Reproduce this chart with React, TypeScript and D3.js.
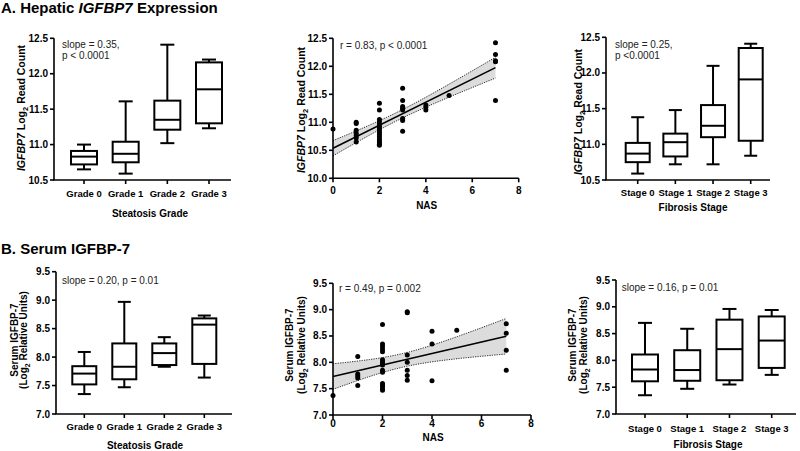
import React from "react";
import * as d3 from "d3";

const FONT = "'Liberation Sans', Arial, Helvetica, sans-serif";

// ---------- categories & ticks ----------
const steatosisGrades = ["Grade 0", "Grade 1", "Grade 2", "Grade 3"];
const fibrosisStages = ["Stage 0", "Stage 1", "Stage 2", "Stage 3"];
const hepBoxTicks = [10.5, 11.0, 11.5, 12.0, 12.5];
const hepScatterTicks = [10.0, 10.5, 11.0, 11.5, 12.0, 12.5];
const serumTicks = [7.0, 7.5, 8.0, 8.5, 9.0, 9.5];
const nasTicks = [0, 2, 4, 6, 8];

// ---------- box statistics: [min, q1, median, q3, max] ----------
const hepSteatosisStats = [
  [10.65, 10.72, 10.83, 10.91, 11.0],
  [10.59, 10.75, 10.87, 11.04, 11.61],
  [11.02, 11.21, 11.35, 11.62, 12.41],
  [11.23, 11.3, 11.78, 12.16, 12.2],
];
const hepFibrosisStats = [
  [10.59, 10.75, 10.87, 11.02, 11.38],
  [10.72, 10.83, 11.03, 11.15, 11.48],
  [10.72, 11.1, 11.26, 11.55, 12.1],
  [10.84, 11.05, 11.91, 12.35, 12.41],
];
const serSteatosisStats = [
  [7.35, 7.52, 7.71, 7.84, 8.09],
  [7.47, 7.61, 7.83, 8.24, 8.97],
  [7.83, 7.86, 8.07, 8.24, 8.35],
  [7.64, 7.88, 8.57, 8.68, 8.73],
];
const serFibrosisStats = [
  [7.35, 7.61, 7.83, 8.11, 8.7],
  [7.47, 7.62, 7.82, 8.19, 8.59],
  [7.55, 7.63, 8.21, 8.76, 8.96],
  [7.73, 7.86, 8.37, 8.82, 8.94],
];

// ---------- scatter data (NAS vs value) ----------
const hepNasX = [
  0,
  1, 1, 1, 1, 1, 1, 1,
  2, 2, 2, 2, 2, 2, 2, 2, 2, 2, 2, 2, 2, 2, 2, 2,
  3, 3, 3, 3, 3, 3, 3, 3,
  4, 4, 4,
  5,
  7, 7, 7, 7, 7,
];
const hepNasY = [
  10.88,
  11.0, 10.98, 10.86, 10.8, 10.76, 10.72, 10.65,
  11.34, 11.22, 11.05, 11.01, 10.97, 10.93, 10.9, 10.86, 10.82, 10.78, 10.74, 10.7, 10.67, 10.64, 10.61, 10.59,
  11.61, 11.39, 11.28, 11.25, 11.22, 11.07, 11.03, 10.84,
  11.31, 11.27, 11.22,
  11.48,
  12.42, 12.21, 12.1, 12.08, 11.39,
];
const serNasX = [
  0,
  1, 1, 1, 1, 1,
  2, 2, 2, 2, 2, 2, 2, 2, 2, 2, 2, 2, 2, 2, 2, 2,
  3, 3, 3, 3, 3, 3, 3,
  4, 4, 4,
  5,
  7, 7, 7, 7,
];
const serNasY = [
  7.37,
  8.11, 7.78, 7.74, 7.7, 7.56,
  8.72, 8.35, 8.3, 8.25, 8.2, 8.05, 8.01, 7.97, 7.95, 7.85, 7.81, 7.6, 7.57, 7.54, 7.5, 7.47,
  8.96, 8.94, 8.14, 8.0, 7.85, 7.75, 7.66,
  8.59, 8.35, 7.65,
  8.61,
  8.73, 8.55, 8.23, 7.85,
];

const T_CRIT = 2.03;

function fit(xs: number[], ys: number[]) {
  const n = xs.length;
  const mx = d3.mean(xs) as number;
  const my = d3.mean(ys) as number;
  let sxx = 0;
  let sxy = 0;
  xs.forEach((xv, i) => {
    sxx += (xv - mx) ** 2;
    sxy += (xv - mx) * (ys[i] - my);
  });
  const b = sxy / sxx;
  const a = my - b * mx;
  let sse = 0;
  xs.forEach((xv, i) => {
    const r = ys[i] - (a + b * xv);
    sse += r * r;
  });
  const s = Math.sqrt(sse / (n - 2));
  const half = (xv: number) => T_CRIT * s * Math.sqrt(1 / n + (xv - mx) ** 2 / sxx);
  return { a, b, half };
}

const fmt1 = d3.format(".1f");

function YTicks({ y, ticks, axisX, format }: any) {
  return (
    <g>
      {ticks.map((t: number) => (
        <g key={t}>
          <line x1={axisX - 4} x2={axisX} y1={y(t)} y2={y(t)} stroke="#000" strokeWidth={1.6} />
          <text x={axisX - 6} y={y(t)} dy="0.35em" textAnchor="end" fontSize={10} fontWeight="bold" fontFamily={FONT}>
            {format(t)}
          </text>
        </g>
      ))}
    </g>
  );
}

function BoxPanel(p: any) {
  const y = d3.scaleLinear().domain([p.ticks[0], p.ticks[p.ticks.length - 1]]).range([p.yBottom, p.yTop]);
  const x = d3.scalePoint().domain(p.cats).range([p.firstCenter, p.lastCenter]);
  const bw = p.boxW;
  const cap = p.capW;
  return (
    <g>
      <line x1={p.axisX} x2={p.axisX} y1={p.yTop} y2={p.yBottom} stroke="#000" strokeWidth={1.6} />
      <line x1={p.axisX - 0.8} x2={p.axisEnd} y1={p.yBottom} y2={p.yBottom} stroke="#000" strokeWidth={1.6} />
      <YTicks y={y} ticks={p.ticks} axisX={p.axisX} format={fmt1} />
      {p.cats.map((c: string, i: number) => {
        const cx = x(c) as number;
        const [mn, q1, md, q3, mx] = p.stats[i];
        return (
          <g key={c} stroke="#000" strokeWidth={2} fill="none">
            <line x1={cx} x2={cx} y1={p.yBottom} y2={p.yBottom + 4} strokeWidth={1.6} />
            <line x1={cx} x2={cx} y1={y(mx)} y2={y(q3)} />
            <line x1={cx} x2={cx} y1={y(q1)} y2={y(mn)} />
            <line x1={cx - cap / 2} x2={cx + cap / 2} y1={y(mx)} y2={y(mx)} />
            <line x1={cx - cap / 2} x2={cx + cap / 2} y1={y(mn)} y2={y(mn)} />
            <rect x={cx - bw / 2} y={y(q3)} width={bw} height={y(q1) - y(q3)} fill="#fff" />
            <line x1={cx - bw / 2} x2={cx + bw / 2} y1={y(md)} y2={y(md)} />
            <text x={cx} y={p.catLabelY} textAnchor="middle" fontSize={9.5} fontWeight="bold" fontFamily={FONT} stroke="none" fill="#000">
              {c}
            </text>
          </g>
        );
      })}
    </g>
  );
}

function ScatterPanel(p: any) {
  const y = d3.scaleLinear().domain([p.ticks[0], p.ticks[p.ticks.length - 1]]).range([p.yBottom, p.yTop]);
  const x = d3.scaleLinear().domain([0, 8]).range([p.x0, p.x8]);
  const { a, b, half } = fit(p.xs, p.ys);
  const xMin = d3.min(p.xs) as number;
  const xMax = d3.max(p.xs) as number;
  const grid = d3.range(0, 101).map((i) => xMin + ((xMax - xMin) * i) / 100);
  const area = d3
    .area<number>()
    .x((d) => x(d))
    .y0((d) => y(a + b * d - half(d)))
    .y1((d) => y(a + b * d + half(d)));
  const upper = d3.line<number>().x((d) => x(d)).y((d) => y(a + b * d + half(d)));
  const lower = d3.line<number>().x((d) => x(d)).y((d) => y(a + b * d - half(d)));
  return (
    <g>
      <path d={area(grid) as string} fill="#dcdcdc" />
      <path d={upper(grid) as string} fill="none" stroke="#222" strokeWidth={1} strokeDasharray="1.2,1.2" />
      <path d={lower(grid) as string} fill="none" stroke="#222" strokeWidth={1} strokeDasharray="1.2,1.2" />
      <line x1={x(xMin)} x2={x(xMax)} y1={y(a + b * xMin)} y2={y(a + b * xMax)} stroke="#000" strokeWidth={1.6} />
      {p.xs.map((xv: number, i: number) => (
        <circle key={i} cx={x(xv)} cy={y(p.ys[i])} r={2.5} fill="#000" />
      ))}
      <line x1={p.x0} x2={p.x0} y1={p.yTop} y2={p.yBottom} stroke="#000" strokeWidth={1.6} />
      <line x1={p.x0 - 0.8} x2={p.x8} y1={p.yBottom} y2={p.yBottom} stroke="#000" strokeWidth={1.6} />
      <YTicks y={y} ticks={p.ticks} axisX={p.x0} format={fmt1} />
      {nasTicks.map((t) => (
        <g key={t}>
          <line x1={x(t)} x2={x(t)} y1={p.yBottom} y2={p.yBottom + 4} stroke="#000" strokeWidth={1.6} />
          <text x={x(t)} y={p.tickLabelY} textAnchor="middle" fontSize={10} fontWeight="bold" fontFamily={FONT}>
            {t}
          </text>
        </g>
      ))}
    </g>
  );
}

function HepYLabel({ x, y }: any) {
  return (
    <text transform={`translate(${x},${y}) rotate(-90)`} dy="0.35em" textAnchor="middle" fontSize={10.5} fontWeight="bold" fontFamily={FONT}>
      <tspan fontStyle="italic">IGFBP7</tspan>
      <tspan> Log</tspan>
      <tspan fontSize={7.5} dy={3}>2</tspan>
      <tspan dy={-3}> Read Count</tspan>
    </text>
  );
}

function SerumYLabel({ x1, x2, y }: any) {
  return (
    <g fontSize={10} fontWeight="bold" fontFamily={FONT}>
      <text transform={`translate(${x1},${y}) rotate(-90)`} dy="0.35em" textAnchor="middle">
        Serum IGFBP-7
      </text>
      <text transform={`translate(${x2},${y}) rotate(-90)`} dy="0.35em" textAnchor="middle">
        <tspan>(Log</tspan>
        <tspan fontSize={7} dy={3}>2</tspan>
        <tspan dy={-3}> Relative Units)</tspan>
      </text>
    </g>
  );
}

function Label({ x, y, children, size = 10, anchor = "middle", weight = "bold", fill = "#000" }: any) {
  return (
    <text x={x} y={y} textAnchor={anchor} fontSize={size} fontWeight={weight} fontFamily={FONT} fill={fill}>
      {children}
    </text>
  );
}

export default function App() {
  return (
    <svg width={800} height={451} style={{ position: "absolute", left: 0, top: 0, background: "#fff" }}>
      <rect width={800} height={451} fill="#fff" />
      {/* Titles */}
      <text x={1} y={12.5} fontSize={15} fontWeight="bold" fontFamily={FONT}>
        A. Hepatic <tspan fontStyle="italic">IGFBP7</tspan> Expression
      </text>
      <text x={1} y={253.5} fontSize={15} fontWeight="bold" fontFamily={FONT}>
        B. Serum IGFBP-7
      </text>

      {/* A1 */}
      <BoxPanel axisX={54} yTop={38.3} yBottom={180} ticks={hepBoxTicks} cats={steatosisGrades} stats={hepSteatosisStats}
        firstCenter={84} lastCenter={209} axisEnd={231} boxW={26} capW={14} catLabelY={196.5} />
      <HepYLabel x={21} y={108} />
      <Label x={150} y={216.5}>Steatosis Grade</Label>
      <Label x={62} y={47.5} anchor="start" weight="normal" fill="#222">slope = 0.35,</Label>
      <Label x={62} y={59} anchor="start" weight="normal" fill="#222">p &lt; 0.0001</Label>

      {/* A2 */}
      <ScatterPanel x0={333} x8={518.7} yTop={38.3} yBottom={178.3} ticks={hepScatterTicks} xs={hepNasX} ys={hepNasY} tickLabelY={194} />
      <HepYLabel x={301.7} y={110} />
      <Label x={426.7} y={208.5}>NAS</Label>
      <Label x={340} y={48.5} anchor="start" weight="normal" fill="#222">r = 0.83, p &lt; 0.0001</Label>

      {/* A3 */}
      <BoxPanel axisX={606} yTop={37.3} yBottom={180} ticks={hepBoxTicks} cats={fibrosisStages} stats={hepFibrosisStats}
        firstCenter={637.7} lastCenter={750.7} axisEnd={770} boxW={24} capW={13} catLabelY={196} />
      <HepYLabel x={578.3} y={112} />
      <Label x={693} y={211}>Fibrosis Stage</Label>
      <Label x={615} y={47.5} anchor="start" weight="normal" fill="#222">slope = 0.25,</Label>
      <Label x={615} y={58.5} anchor="start" weight="normal" fill="#222">p &lt;0.0001</Label>

      {/* B1 */}
      <BoxPanel axisX={56} yTop={271.7} yBottom={414} ticks={serumTicks} cats={steatosisGrades} stats={serSteatosisStats}
        firstCenter={84.3} lastCenter={204.3} axisEnd={232} boxW={24} capW={13} catLabelY={430} />
      <SerumYLabel x1={14} x2={23.3} y={340} />
      <Label x={145} y={449}>Steatosis Grade</Label>
      <Label x={62} y={283.5} anchor="start" weight="normal" fill="#222">slope = 0.20, p = 0.01</Label>

      {/* B2 */}
      <ScatterPanel x0={333} x8={531} yTop={283.3} yBottom={415} ticks={serumTicks} xs={serNasX} ys={serNasY} tickLabelY={427} />
      <SerumYLabel x1={289} x2={301.7} y={345} />
      <Label x={433} y={441}>NAS</Label>
      <Label x={339} y={291.8} anchor="start" weight="normal" fill="#222">r = 0.49, p = 0.002</Label>

      {/* B3 */}
      <BoxPanel axisX={616} yTop={280} yBottom={414} ticks={serumTicks} cats={fibrosisStages} stats={serFibrosisStats}
        firstCenter={645} lastCenter={771.7} axisEnd={796} boxW={26} capW={14} catLabelY={432} />
      <SerumYLabel x1={572} x2={583} y={345} />
      <Label x={708} y={447.5}>Fibrosis Stage</Label>
      <Label x={621.7} y={291} anchor="start" weight="normal" fill="#222">slope = 0.16, p = 0.01</Label>
    </svg>
  );
}
